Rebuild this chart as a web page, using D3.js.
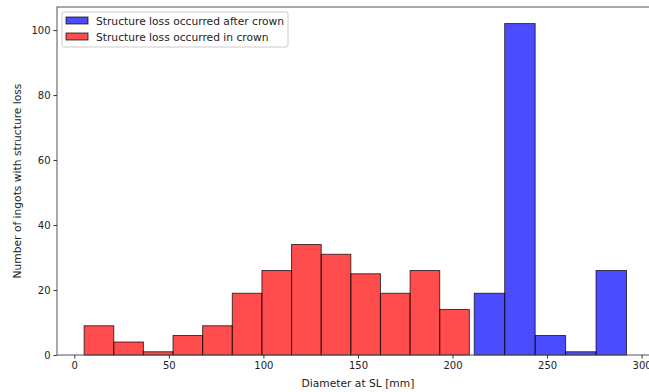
<!DOCTYPE html>
<html>
<head>
<meta charset="utf-8">
<script src="https://cdn.jsdelivr.net/npm/d3@7"></script>
<style>
  html, body { margin: 0; padding: 0; background: #fff; }
  svg { display: block; }
  text { font-family: "DejaVu Sans", sans-serif; fill: #222; }
</style>
</head>
<body>
<svg id="chart" width="649" height="392"></svg>
<script>
// ---- data ----
const redEdges = [5.2, 20.87, 36.54, 52.21, 67.88, 83.55, 99.22, 114.89, 130.56, 146.23, 161.9, 177.57, 193.24, 208.9];
const redCounts = [9, 4, 1, 6, 9, 19, 26, 34, 31, 25, 19, 26, 14];
const blueEdges = [211.5, 227.6, 243.7, 259.8, 275.9, 292.0];
const blueCounts = [19, 102, 6, 1, 26];
const xTicks = [0, 50, 100, 150, 200, 250, 300];
const yTicks = [0, 20, 40, 60, 80, 100];
const seriesNames = ["Structure loss occurred after crown", "Structure loss occurred in crown"];
const xLabel = "Diameter at SL [mm]";
const yLabel = "Number of ingots with structure loss";

// ---- layout ----
const svg = d3.select("#chart");
const plotLeft = 57, plotTop = 7, plotBottom = 355, plotRight = 654;
const x = d3.scaleLinear().domain([-9.15, 306.55]).range([plotLeft, plotRight]);
const y = d3.scaleLinear().domain([0, 107.1]).range([plotBottom, plotTop]);

const blueFill = "rgb(0,0,255)", redFill = "rgb(255,0,0)";
const labelSize = 10.7;

function bins(edges, counts) {
  return counts.map((c, i) => ({ x0: edges[i], x1: edges[i + 1], c }));
}

function drawBars(data, color) {
  svg.append("g").selectAll("rect").data(data).enter().append("rect")
    .attr("x", d => x(d.x0))
    .attr("y", d => y(d.c))
    .attr("width", d => x(d.x1) - x(d.x0))
    .attr("height", d => y(0) - y(d.c))
    .attr("fill", color).attr("fill-opacity", 0.7)
    .attr("stroke", "#000").attr("stroke-opacity", 0.7).attr("stroke-width", 1);
}
drawBars(bins(blueEdges, blueCounts), blueFill);
drawBars(bins(redEdges, redCounts), redFill);

// spines
svg.append("rect").attr("x", plotLeft).attr("y", plotTop)
  .attr("width", plotRight - plotLeft).attr("height", plotBottom - plotTop)
  .attr("fill", "none").attr("stroke", "#555").attr("stroke-width", 1);

// axes
const xAxis = d3.axisBottom(x).tickValues(xTicks).tickSize(3.5).tickPadding(3).tickFormat(d3.format("d"));
const gx = svg.append("g").attr("transform", `translate(0,${plotBottom})`).call(xAxis);
gx.select(".domain").remove();
gx.selectAll("line").attr("stroke", "#333");
gx.selectAll("text").attr("font-size", 10).attr("font-family", "DejaVu Sans").attr("fill", "#222");

const yAxis = d3.axisLeft(y).tickValues(yTicks).tickSize(3.5).tickPadding(3).tickFormat(d3.format("d"));
const gy = svg.append("g").attr("transform", `translate(${plotLeft},0)`).call(yAxis);
gy.select(".domain").remove();
gy.selectAll("line").attr("stroke", "#333");
gy.selectAll("text").attr("font-size", 10).attr("font-family", "DejaVu Sans").attr("fill", "#222");

// axis labels
svg.append("text").attr("x", x(150)).attr("y", 387).attr("text-anchor", "middle")
  .attr("font-size", labelSize).text(xLabel);
svg.append("text").attr("transform", `translate(21,${(plotTop + plotBottom) / 2}) rotate(-90)`)
  .attr("text-anchor", "middle").attr("font-size", labelSize).text(yLabel);

// legend
const lg = svg.append("g");
lg.append("rect").attr("x", 62).attr("y", 12).attr("width", 226).attr("height", 35).attr("rx", 2)
  .attr("fill", "#fff").attr("fill-opacity", 0.8).attr("stroke", "#ccc").attr("stroke-width", 1);
[blueFill, redFill].forEach((c, i) => {
  const yy = 17 + i * 16;
  lg.append("rect").attr("x", 66).attr("y", yy).attr("width", 22).attr("height", 7)
    .attr("fill", c).attr("fill-opacity", 0.7).attr("stroke", "#000").attr("stroke-opacity", 0.7);
  lg.append("text").attr("x", 96).attr("y", yy + 7.5).attr("font-size", labelSize).text(seriesNames[i]);
});
</script>
</body>
</html>
